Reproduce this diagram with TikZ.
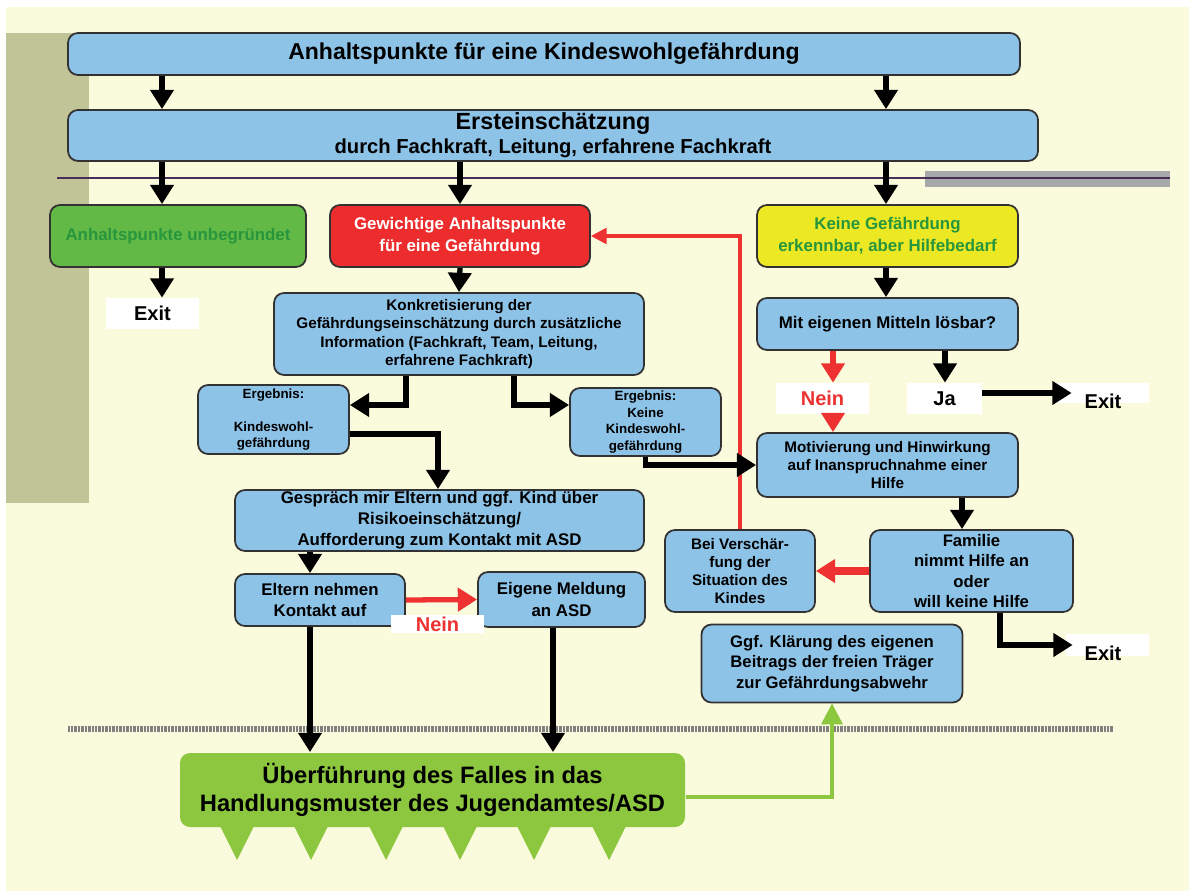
\documentclass[tikz,border=0pt]{standalone}
\usepackage{fontspec}
\setmainfont{Liberation Sans}
\usetikzlibrary{arrows.meta}

\definecolor{creme}{RGB}{250,250,220}
\definecolor{oliv}{RGB}{193,196,151}
\definecolor{kastenblau}{RGB}{142,195,232}
\definecolor{rahmen}{RGB}{50,50,50}
\definecolor{rotkasten}{RGB}{237,45,45}
\definecolor{gelbkasten}{RGB}{236,232,36}
\definecolor{gruenkasten}{RGB}{98,185,70}
\definecolor{gruentext}{RGB}{40,150,60}
\definecolor{hellgruen}{RGB}{141,198,63}
\definecolor{pfeilrot}{RGB}{238,50,50}
\definecolor{bandgrau}{RGB}{167,168,170}
\definecolor{lila}{RGB}{75,45,90}

\newcommand{\schrift}[2]{\fontsize{#1}{#2}\selectfont\bfseries}

\tikzset{sz/.style 2 args={minimum width=#1*0.02cm,minimum height=#2*0.02cm},
  kasten/.style={draw=rahmen,line width=1pt,fill=kastenblau,rounded corners=0.2cm,
    align=center,inner sep=0pt,font={\schrift{9.6}{12.4}}},
  weiss/.style={fill=white,inner sep=0pt,font={\schrift{11.4}{13}}},
  pfeil/.style={-{Triangle[width=13pt,length=11pt]},line width=3pt},
  rotpfeil/.style={pfeil,color=pfeilrot},
  gruenpfeil/.style={-{Triangle[width=12pt,length=12pt]},line width=2pt,color=hellgruen}}

\begin{document}
\begin{tikzpicture}[x=0.02cm,y=-0.02cm]
        % hintergrund
        \fill[white] (0,0) rectangle (1189,891);
        \fill[creme] (6,7) rectangle (1189,891);
        \fill[oliv] (6,33) rectangle (89,503);
        \fill[bandgrau] (925,171) rectangle (1170,187);
        \draw[lila,line width=1.2pt] (57,178) -- (1170,178);
        \draw[gray,line width=3pt,dash pattern=on 0.4pt off 0.4pt] (68,729) -- (1113,729);

        \coordinate (c1) at (162,0);
        \coordinate (c2) at (460,0);
        \coordinate (c3) at (886,0);
        \coordinate (c4) at (310,0);
        \coordinate (c5) at (553,0);
        \coordinate (cN) at (833,0);
        \coordinate (cJ) at (945,0);
        \coordinate (cM) at (962,0);
        \coordinate (kA) at (406,405);
        \coordinate (kB) at (514,405);
        \coordinate (gA) at (438,434);

        % kaesten
        \node [kasten,sz={952}{42},font={\schrift{13.1}{15}}] (anhalt) at (544,54) {Anhaltspunkte für eine Kindeswohlgefährdung};
        \node [kasten,sz={970}{51},font={\schrift{11.5}{13.7}}] (erst) at (553,135.5) {{\fontsize{13.3}{13.7}\selectfont Ersteinschätzung}\\durch Fachkraft, Leitung, erfahrene Fachkraft};

        \node [kasten,sz={256}{62},fill=gruenkasten,text=gruentext] (unbegr) at (178,236) {Anhaltspunkte unbegründet};
        \node [kasten,sz={260}{62},fill=rotkasten,text=white] (gewicht) at (460,236) {Gewichtige Anhaltspunkte\\für eine Gefährdung};
        \node [kasten,sz={261}{62},fill=gelbkasten,text=gruentext] (keine) at (887.5,236) {Keine Gefährdung\\erkennbar, aber Hilfebedarf};

        \node [weiss,sz={93}{31}] (exitA) at (152.5,313.5) {Exit};
        \node [kasten,sz={370}{82},font={\schrift{8.7}{10.4}}] (konkret) at (459,334) {Konkretisierung der\\Gefährdungseinschätzung durch zusätzliche\\Information (Fachkraft, Team, Leitung,\\erfahrene Fachkraft)};
        \node [kasten,sz={151}{69},font={\schrift{7.6}{9.2}}] (ergJa) at (273.5,419.5) {Ergebnis:\\[9.2pt]Kindeswohl-\\gefährdung};
        \node [kasten,sz={151}{68},font={\schrift{7.6}{9.4}}] (ergNein) at (645.5,422) {Ergebnis:\\Keine\\Kindeswohl-\\gefährdung};
        \node [kasten,sz={409}{61},font={\schrift{9.6}{11.9}}] (gespraech) at (439.5,520.5) {Gespräch mir Eltern und ggf. Kind über\\Risikoeinschätzung/\\Aufforderung zum Kontakt mit ASD};
        \node [kasten,sz={170}{52},font={\schrift{9.6}{12.3}}] (eltern) at (320,600) {Eltern nehmen\\Kontakt auf};
        \node [kasten,sz={167}{55},font={\schrift{9.6}{12.3}}] (meldung) at (561.5,599.5) {Eigene Meldung\\an ASD};
        \node [weiss,sz={93}{18},text=pfeilrot] (neinA) at (437.5,624) {Nein};

        \node [kasten,sz={505}{74},fill=hellgruen,draw=none,font={\schrift{13.5}{16}}] (ueber) at (432.5,790) {Überführung des Falles in das\\Handlungsmuster des Jugendamtes/ASD};
        \fill[hellgruen] (220,826) -- (254,826) -- (237,860) -- cycle;
        \fill[hellgruen] (294,826) -- (328,826) -- (311,860) -- cycle;
        \fill[hellgruen] (369,826) -- (403,826) -- (386,860) -- cycle;
        \fill[hellgruen] (443,826) -- (477,826) -- (460,860) -- cycle;
        \fill[hellgruen] (517,826) -- (551,826) -- (534,860) -- cycle;
        \fill[hellgruen] (592,826) -- (626,826) -- (609,860) -- cycle;

        \node [kasten,sz={261}{52}] (mittel) at (887.5,324) {Mit eigenen Mitteln lösbar?};
        \node [weiss,sz={93}{31},text=pfeilrot] (neinB) at (822.5,398.5) {Nein};
        \node [weiss,sz={75}{31}] (ja) at (944.5,398.5) {Ja};
        \node [weiss,sz={97}{20}] (exitB) at (1100.5,393) {};
        \node [font={\schrift{11.4}{13}}] (exitBtext) at (1103,401) {Exit};
        \node [kasten,sz={261}{64},font={\schrift{8.7}{10.2}}] (motiv) at (887.5,465) {Motivierung und Hinwirkung\\auf Inanspruchnahme einer\\Hilfe};
        \node [kasten,sz={203}{82},font={\schrift{9.5}{11.6}}] (familie) at (971.5,571) {Familie\\nimmt Hilfe an\\oder\\will keine Hilfe};
        \node [kasten,sz={150}{82},font={\schrift{8.7}{10.4}}] (verschaerf) at (740,571) {Bei Verschär-\\fung der\\Situation des\\Kindes};
        \node [weiss,sz={83}{22}] (exitC) at (1107.5,645) {};
        \node [font={\schrift{11.4}{13}}] (exitCtext) at (1103,653) {Exit};
        \node [kasten,sz={261}{78},font={\schrift{9.5}{11.7}}] (klaerung) at (832,663.5) {Ggf. Klärung des eigenen\\Beitrags der freien Träger\\zur Gefährdungsabwehr};

        % pfeile
        \draw [rotpfeil,line width=1.8pt,-{Triangle[width=9pt,length=9pt]}] (verschaerf.north) |- (gewicht.east);
        \draw [pfeil] (anhalt.south -| c1) -- (erst.north -| c1);
        \draw [pfeil] (anhalt.south -| c3) -- (erst.north -| c3);
        \draw [pfeil] (erst.south -| c1) -- (unbegr.north -| c1);
        \draw [pfeil] (erst.south -| c2) -- (gewicht.north -| c2);
        \draw [pfeil] (erst.south -| c3) -- (keine.north -| c3);
        \draw [pfeil] (unbegr.south -| c1) -- (exitA.north -| c1);
        \draw [pfeil] (gewicht.south) -- (konkret.north);
        \draw [pfeil,line width=3.8pt] (konkret.south -| kA) -- (kA) -- (ergJa.east |- kA);
        \draw [pfeil,line width=3.8pt] (konkret.south -| kB) -- (kB) -- (ergNein.west |- kB);
        \draw [pfeil] (ergJa.east |- gA) -- (gA) -- (gespraech.north -| gA);
        \draw [pfeil] (ergNein.south) |- (motiv.west);
        \draw [pfeil] (gespraech.south -| c4) -- (eltern.north -| c4);
        \draw [rotpfeil] (eltern.east) -- (meldung.west);
        \draw [pfeil] (eltern.south -| c4) -- (ueber.north -| c4);
        \draw [pfeil] (meldung.south -| c5) -- (ueber.north -| c5);
        \draw [gruenpfeil] ([yshift=-0.14cm]ueber.east) -| (klaerung.south);

        \draw [pfeil] (keine.south -| c3) -- (mittel.north -| c3);
        \draw [rotpfeil] (mittel.south -| cN) -- (neinB.north -| cN);
        \draw [rotpfeil,shorten <=-0.2cm] (neinB.south -| cN) -- (motiv.north -| cN);
        \draw [pfeil] (mittel.south -| cJ) -- (ja.north -| cJ);
        \draw [pfeil] (ja.east |- exitB) -- ([xshift=0.4cm]exitB.west);
        \draw [pfeil] (motiv.south -| cM) -- (familie.north -| cM);
        \draw [rotpfeil,line width=4pt] (familie.west) -- (verschaerf.east);
        \draw [pfeil] ([xshift=0.57cm]familie.south) |- ([xshift=0.14cm]exitC.west);
\end{tikzpicture}
\end{document}
